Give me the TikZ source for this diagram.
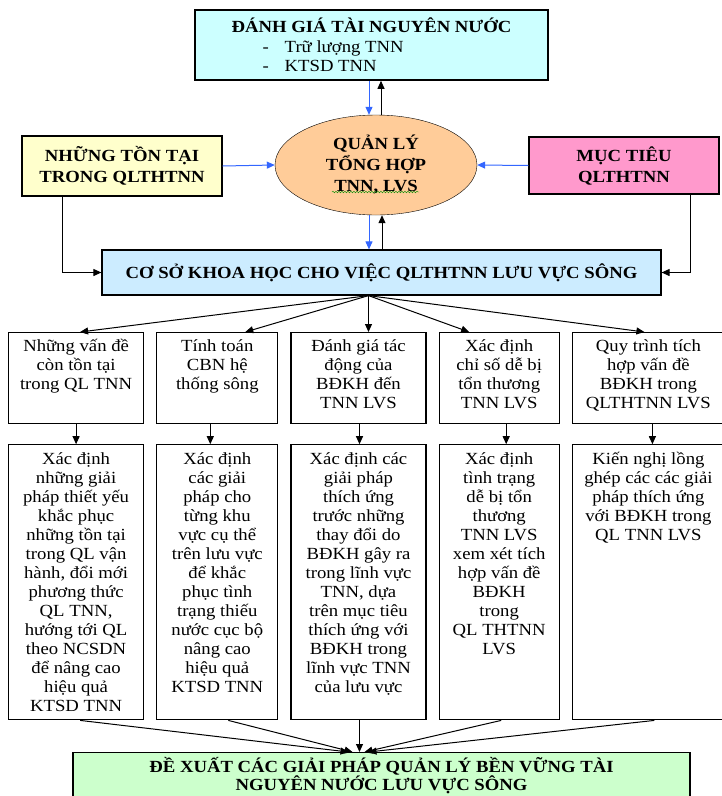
\documentclass[tikz,border=0pt]{standalone}
\usepackage{fontspec}
\setmainfont{Liberation Serif}[FakeStretch=1.1]
\usetikzlibrary{arrows.meta,positioning,calc,shapes.geometric,decorations.pathmorphing}
\definecolor{Aqua}{HTML}{CCFFFF}
\definecolor{Lemon}{HTML}{FFFFCC}
\definecolor{Peach}{HTML}{FFCC99}
\definecolor{Rose}{HTML}{FF99CC}
\definecolor{Sky}{HTML}{CCECFF}
\definecolor{Mint}{HTML}{CCFFCC}
\definecolor{Arrow}{HTML}{3366FF}
\newcommand\boxtext[3]{\parbox[c][#2][t]{#1}{\centering\vspace*{6pt}\strut #3}}

\begin{document}
\begin{tikzpicture}[x=1pt,y=-1pt,>={Triangle[length=8pt,width=7pt]},
    head/.style={draw,line width=1.2pt,inner sep=0pt,align=center,font=\fontsize{17}{21}\selectfont\bfseries},
    cell/.style={draw,line width=1.2pt,fill=white,inner sep=0pt,font=\fontsize{17}{19}\selectfont},
    karrow/.style={->,line width=1pt},
    barrow/.style={->,line width=1pt,Arrow}]
    \useasboundingbox (0,0) rectangle (722,796);
    \clip (0,0) rectangle (722,796);
    % khoi tren
    \node[head,fill=Aqua,line width=1.6pt,minimum width=353pt,minimum height=70pt,font=\fontsize{17}{19.5}\selectfont] (dg) at (371.5,45)
      {\bfseries ĐÁNH GIÁ TÀI NGUYÊN NƯỚC\\\mdseries\makebox[218pt][l]{-\hspace{16pt}Trữ lượng TNN}\\\makebox[218pt][l]{-\hspace{16pt}KTSD TNN}};
    \node[ellipse,draw,fill=Peach,minimum width=202pt,minimum height=100pt,inner sep=0pt,align=center,font=\fontsize{17}{21}\selectfont\bfseries] (ql) at (376,165) {QUẢN LÝ\\TỔNG HỢP\\TNN, LVS};
    \node[head,fill=Lemon,minimum width=200pt,minimum height=60pt] (ton) at (122,166) {NHỮNG TỒN TẠI\\TRONG QLTHTNN};
    \node[head,fill=Rose,minimum width=190pt,minimum height=57pt] (mt) at (624,165.5) {MỤC TIÊU\\QLTHTNN};
    \node[head,fill=Sky,minimum width=559pt,minimum height=45pt] (cs) at (381.5,272.5) {CƠ SỞ KHOA HỌC CHO VIỆC QLTHTNN LƯU VỰC SÔNG};
    \draw[green!55!black,decorate,decoration={snake,amplitude=0.8pt,segment length=3pt}] ($(ql.center)+(-44,27)$) -- ($(ql.center)+(43,27)$);
    % hang 1
    \node[cell,anchor=north west] (r1a) at (8,332) {\boxtext{135pt}{91pt}{Những vấn đề\\còn tồn tại\\trong QL TNN}};
    \node[cell,right=12pt of r1a] (r1b) {\boxtext{121pt}{91pt}{Tính toán\\CBN hệ\\thống sông}};
    \node[cell,right=12pt of r1b] (r1c) {\boxtext{135pt}{91pt}{Đánh giá tác\\động của\\BĐKH đến\\TNN LVS}};
    \node[cell,right=12pt of r1c] (r1d) {\boxtext{120pt}{91pt}{Xác định\\chỉ số dễ bị\\tổn thương\\TNN LVS}};
    \node[cell,right=12pt of r1d] (r1e) {\boxtext{152pt}{91pt}{Quy trình tích\\hợp vấn đề\\BĐKH trong\\QLTHTNN LVS}};
    % hang 2
    \node[cell,below=20pt of r1a] (r2a) {\boxtext{135pt}{275pt}{Xác định\\những giải\\pháp thiết yếu\\khắc phục\\những tồn tại\\trong QL vận\\hành, đổi mới\\phương thức\\QL TNN,\\hướng tới QL\\theo NCSDN\\để nâng cao\\hiệu quả\\KTSD TNN}};
    \node[cell,below=20pt of r1b] (r2b) {\boxtext{121pt}{275pt}{Xác định\\các giải\\pháp cho\\từng khu\\vực cụ thể\\trên lưu vực\\để khắc\\phục tình\\trạng thiếu\\nước cục bộ\\nâng cao\\hiệu quả\\KTSD TNN}};
    \node[cell,below=20pt of r1c] (r2c) {\boxtext{135pt}{275pt}{Xác định các\\giải pháp\\thích ứng\\trước những\\thay đổi do\\BĐKH gây ra\\trong lĩnh vực\\TNN, dựa\\trên mục tiêu\\thích ứng với\\BĐKH trong\\lĩnh vực TNN\\của lưu vực}};
    \node[cell,below=20pt of r1d] (r2d) {\boxtext{120pt}{275pt}{Xác định\\tình trạng\\dễ bị tổn\\thương\\TNN LVS\\xem xét tích\\hợp vấn đề\\BĐKH\\trong\\QL THTNN\\LVS}};
    \node[cell,below=20pt of r1e] (r2e) {\boxtext{152pt}{275pt}{Kiến nghị lồng\\ghép các các giải\\pháp thích ứng\\với BĐKH trong\\QL TNN LVS}};
    % khoi duoi
    \node[head,fill=Mint,minimum width=617pt,minimum height=46pt,anchor=north,font=\fontsize{17}{18}\selectfont\bfseries] (bt) at (381.5,752)
      {ĐỀ XUẤT CÁC GIẢI PHÁP QUẢN LÝ BỀN VỮNG TÀI\\NGUYÊN NƯỚC LƯU VỰC SÔNG};
    % mui ten
    \draw[barrow] ($(ql.north |- dg.south)+(-7,0)$) -- ($(ql.north)+(-7,0)$);
    \draw[karrow] ($(ql.north)+(5,0)$) -- ($(ql.north |- dg.south)+(5,0)$);
    \draw[barrow] ($(ql.south)+(-7,0)$) -- ($(ql.south |- cs.north)+(-7,0)$);
    \draw[karrow] ($(ql.south |- cs.north)+(6,0)$) -- ($(ql.south)+(6,0)$);
    \draw[barrow] (ton.east) -- (ql.west);
    \draw[barrow] (mt.west) -- (ql.east);
    \draw[karrow] ($(ton.south)+(-60,0)$) |- (cs.west);
    \draw[karrow] ($(mt.south)+(66,0)$) |- (cs.east);
    \coordinate (fan) at ($(cs.south)+(-13,0)$);
    \foreach \n/\d in {r1a/4,r1b/28,r1d/-30,r1e/-4}\draw[karrow] (fan) -- ($(\n.north)+(\d,0)$);
    \draw[karrow] (fan) -- (fan |- r1c.north);
    \foreach \u/\v/\d in {r1a/r2a/0,r1b/r2b/-7,r1c/r2c/1,r1d/r2d/7,r1e/r2e/4}\draw[karrow] ($(\u.south)+(\d,0)$) -- ($(\v.north)+(\d,0)$);
    \foreach \n/\s/\e in {r2a/4/-10,r2b/11/-6,r2d/2/6,r2e/6/10}\draw[karrow] ($(\n.south)+(\s,0)$) -- ($(r2c.south |- bt.north)+(\e,0)$);
    \draw[karrow] ($(r2c.south)+(1,0)$) -- ($(r2c.south |- bt.north)+(1,0)$);
  \end{tikzpicture}
\end{document}
